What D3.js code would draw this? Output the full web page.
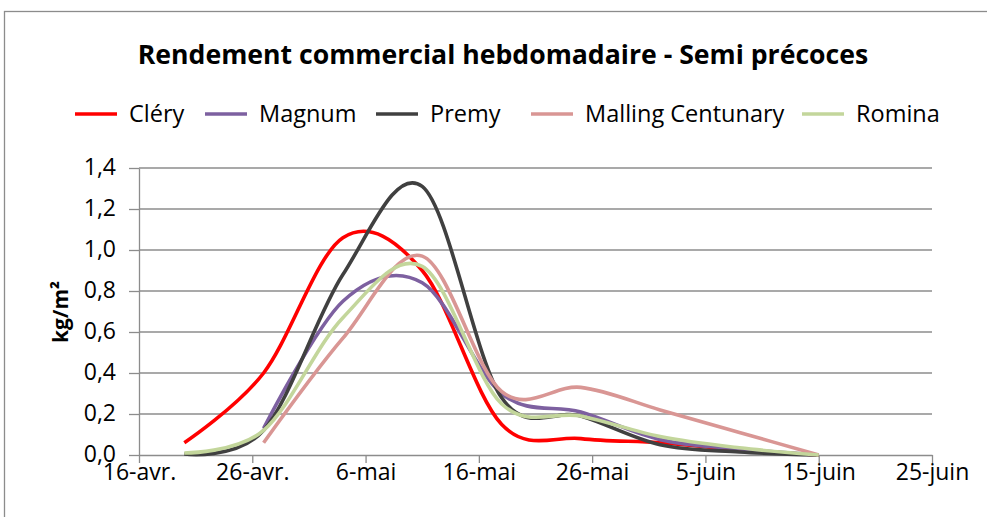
<!DOCTYPE html>
<meta charset="utf-8" />
<style>
  body { margin: 0; background: #fff; }
  text { font-family: "Open Sans", sans-serif; fill: #000; }
  .grid line { stroke: #8c8c8c; stroke-width: 1.3px; }
  .axis path, .axis line { stroke: #8c8c8c; stroke-width: 1.3px; }
  .series path { fill: none; stroke-width: 3.6px; stroke-linejoin: round; }
</style>
<svg width="987" height="517"></svg>
<script src="https://d3js.org/d3.v7.min.js"></script>
<script>
  var parse = d3.utcParse("%Y-%m-%d");

  // weekly harvest dates
  var dates = ["2013-04-20", "2013-04-27", "2013-05-04", "2013-05-11", "2013-05-18",
               "2013-05-25", "2013-06-01", "2013-06-08", "2013-06-15"].map(parse);

  var tickDates = ["2013-04-16", "2013-04-26", "2013-05-06", "2013-05-16",
                   "2013-05-26", "2013-06-05", "2013-06-15", "2013-06-25"].map(parse);
  var tickLabels = ["16-avr.", "26-avr.", "6-mai", "16-mai", "26-mai", "5-juin", "15-juin", "25-juin"];
  var yTicks = [0, 0.2, 0.4, 0.6, 0.8, 1.0, 1.2, 1.4];

  // kg/m² per week (null = no harvest)
  var clery   = [0.06, 0.40, 1.06, 0.90, 0.15, 0.08, 0.06, 0.025, 0];
  var magnum  = [null, 0.13, 0.75, 0.84, 0.30, 0.21, 0.075, 0.03, 0];
  var premy   = [0.005, 0.12, 0.88, 1.31, 0.28, 0.19, 0.05, 0.015, 0];
  var malling = [null, 0.06, 0.57, 0.97, 0.31, 0.33, 0.22, 0.11, 0];
  var romina  = [0.01, 0.12, 0.67, 0.92, 0.25, 0.19, 0.09, 0.035, 0];

  var series = [
    { name: "Cléry", color: "#ff0000", values: clery },
    { name: "Magnum", color: "#7d60a0", values: magnum },
    { name: "Premy", color: "#404040", values: premy },
    { name: "Malling Centunary", color: "#d99694", values: malling },
    { name: "Romina", color: "#c3d69b", values: romina }
  ];

  var svg = d3.select("svg");

  // chart area border
  svg.append("rect")
    .attr("x", 4.5).attr("y", 11.5)
    .attr("width", 1000).attr("height", 530)
    .attr("fill", "none").attr("stroke", "#8c8c8c").attr("stroke-width", 1.3);

  var x = d3.scaleUtc()
    .domain([tickDates[0], tickDates[tickDates.length - 1]])
    .range([139, 932]);

  var y = d3.scaleLinear().domain([0, 1.4]).range([455, 168]);

  // gridlines
  svg.append("g").attr("class", "grid")
    .selectAll("line")
    .data(yTicks.slice(1))
    .enter().append("line")
    .attr("x1", 139).attr("x2", 932)
    .attr("y1", function (d) { return y(d); })
    .attr("y2", function (d) { return y(d); });

  var yAxis = svg.append("g").attr("class", "axis")
    .attr("transform", "translate(139,0)")
    .call(d3.axisLeft(y).tickValues(yTicks).tickSize(10).tickSizeOuter(0).tickPadding(13)
      .tickFormat(function (d) { return d.toFixed(1).replace(".", ","); }));
  yAxis.selectAll("text").style("font-size", "23px").style("font-family", "Open Sans")
    .attr("fill", "#000").attr("dy", "0.3em");

  var xAxis = svg.append("g").attr("class", "axis")
    .attr("transform", "translate(0,455)")
    .call(d3.axisBottom(x).tickValues(tickDates).tickSize(8).tickSizeOuter(0).tickPadding(1)
      .tickFormat(function (d, i) { return tickLabels[i]; }));
  xAxis.selectAll("text").style("font-size", "23px").style("font-family", "Open Sans").attr("fill", "#000");

  // y title
  svg.append("text")
    .attr("transform", "translate(68,312) rotate(-90)")
    .attr("text-anchor", "middle")
    .style("font-size", "21px").style("font-weight", "bold")
    .text("kg/m²");

  // title
  var title = svg.append("text")
    .attr("x", 503).attr("y", 64)
    .attr("text-anchor", "middle")
    .style("font-size", "25px").style("font-weight", "bold")
    .text("Rendement commercial hebdomadaire - Semi précoces");
  var tw = title.node().getComputedTextLength();
  title.style("font-size", (25 * 731 / tw) + "px");

  var line = d3.line()
    .defined(function (d) { return d[1] != null; })
    .x(function (d) { return x(d[0]); })
    .y(function (d) { return y(d[1]); })
    .curve(d3.curveCatmullRom.alpha(0));

  svg.append("g").attr("class", "series")
    .selectAll("path")
    .data(series)
    .enter().append("path")
    .attr("stroke", function (d) { return d.color; })
    .attr("d", function (d) {
      return line(d.values.map(function (v, i) { return [dates[i], v]; }));
    });

  // legend
  var legendX = [75, 205, 376, 531, 802];
  var legend = svg.append("g").selectAll("g")
    .data(series)
    .enter().append("g")
    .attr("transform", function (d, i) { return "translate(" + legendX[i] + ",114)"; });
  legend.append("line")
    .attr("x1", 0).attr("x2", 42)
    .attr("stroke", function (d) { return d.color; })
    .attr("stroke-width", 3.6);
  legend.append("text")
    .attr("x", 54).attr("y", 8)
    .style("font-size", "23.5px")
    .text(function (d) { return d.name; });
</script>
